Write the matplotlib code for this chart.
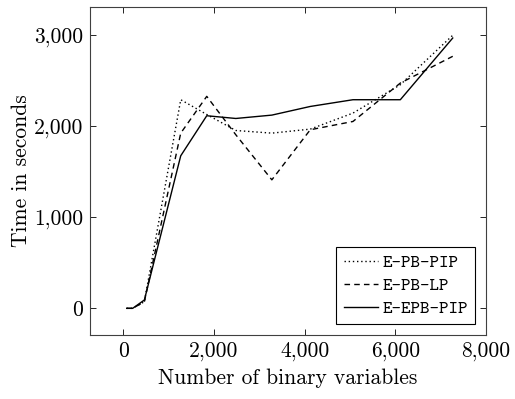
import matplotlib
matplotlib.use("Agg")
import matplotlib.pyplot as plt
from matplotlib.ticker import FuncFormatter

plt.rcParams['font.family'] = ['cmr10', 'DejaVu Serif']
plt.rcParams['axes.formatter.use_mathtext'] = True
plt.rcParams['mathtext.fontset'] = 'cm'

# number of binary variables
n_vars = [74, 206, 464, 1266, 1840, 2481, 3276, 4123, 5065, 6110, 7266]

# times in seconds
e_pb_pip = [0, 0, 73, 2292, 2130, 1954, 1925, 1969, 2145, 2457, 3000]
e_pb_lp = [0, 0, 73, 1925, 2329, 1907, 1412, 1962, 2053, 2475, 2769]
e_epb_pip = [0, 0, 92, 1676, 2116, 2086, 2123, 2218, 2292, 2292, 2970]

fig = plt.figure(figsize=(5.15, 3.99), dpi=100)
ax = fig.add_axes([0.1748, 0.1604, 0.7689, 0.8221])

ax.plot(n_vars, e_pb_pip, color='black', lw=1.0, linestyle=(0, (1, 2)), label='E-PB-PIP')
ax.plot(n_vars, e_pb_lp, color='black', lw=1.0, linestyle=(0, (4, 3)), label='E-PB-LP')
ax.plot(n_vars, e_epb_pip, color='black', lw=1.0, linestyle='-', label='E-EPB-PIP')

ax.set_xlim(-735, 8000)
ax.set_ylim(-293, 3311)
ax.set_xticks([0, 2000, 4000, 6000, 8000])
ax.set_yticks([0, 1000, 2000, 3000])
fmt = FuncFormatter(lambda v, p: f"{int(v):,}")
ax.xaxis.set_major_formatter(fmt)
ax.yaxis.set_major_formatter(fmt)
ax.tick_params(direction='in', top=True, right=True, length=4, width=0.6,
               labelsize=15.5, colors='black')
ax.tick_params(axis='x', pad=5)
ax.tick_params(axis='y', pad=5)
for s in ax.spines.values():
    s.set_linewidth(0.8)
    s.set_color('#404040')

ax.set_xlabel('Number of binary variables', fontsize=15.5, labelpad=5)
ax.set_ylabel('Time in seconds', fontsize=15.5, labelpad=2)

leg = ax.legend(loc='lower right', prop={'family': 'cmtt10', 'size': 13},
                fancybox=False, edgecolor='black', framealpha=1,
                handlelength=1.9, handletextpad=0.25, borderpad=0.4,
                labelspacing=0.35, borderaxespad=0.6)
leg.get_frame().set_linewidth(0.8)

fig.savefig('out.png', dpi=100)
